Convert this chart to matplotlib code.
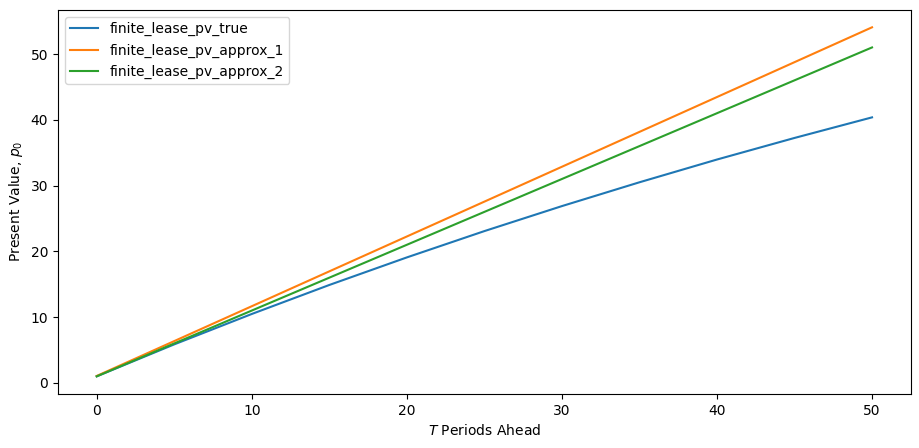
import matplotlib
matplotlib.use("Agg")
import matplotlib.pyplot as plt

# periods ahead (sampled every 5 periods)
T_periods = [0, 5, 10, 15, 20, 25, 30, 35, 40, 45, 50]

# present values
pv_true = [1.00, 5.86, 10.48, 14.89, 19.08, 23.08, 26.88, 30.50, 33.96, 37.24, 40.37]
pv_approx_1 = [1.06, 6.36, 11.66, 16.96, 22.26, 27.56, 32.86, 38.16, 43.46, 48.76, 54.06]
pv_approx_2 = [1.0, 6.0, 11.0, 16.0, 21.0, 26.0, 31.0, 36.0, 41.0, 46.0, 51.0]

fig, ax = plt.subplots(figsize=(9.2, 4.48), dpi=100)
fig.subplots_adjust(left=0.063, right=0.99, top=0.978, bottom=0.121)

ax.plot(T_periods, pv_true, label="finite_lease_pv_true")
ax.plot(T_periods, pv_approx_1, label="finite_lease_pv_approx_1")
ax.plot(T_periods, pv_approx_2, label="finite_lease_pv_approx_2")

ax.set_xlabel("$T$ Periods Ahead")
ax.set_ylabel("Present Value, $p_0$")
ax.legend(loc="upper left")

fig.savefig("out.png", dpi=100)
